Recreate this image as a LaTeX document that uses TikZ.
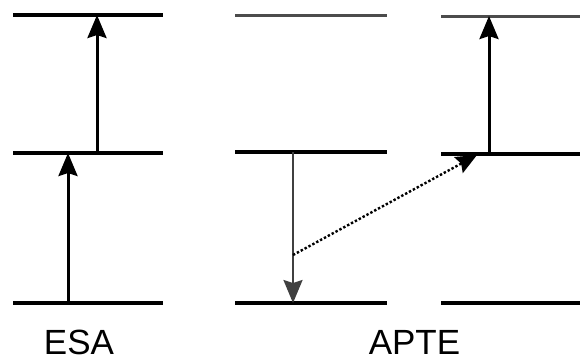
\documentclass[tikz,border=0pt]{standalone}
\usepackage{fontspec}
\setmainfont{Liberation Sans}
\usetikzlibrary{arrows.meta}
\tikzset{
  level/.style={line width=3.4pt, black},
  levelthin/.style={line width=3pt, black!70},
  uparrow/.style={line width=3pt, -{Stealth[length=23pt,width=19pt,inset=3pt]}},
  thinarrow/.style={line width=2.4pt, black!75, -{Stealth[length=23pt,width=19pt,inset=3pt]}},
  dotarrow/.style={line width=2.4pt, dotted, -{Stealth[length=21pt,width=18pt,inset=3pt]}},
  lbl/.style={font=\fontsize{35pt}{40pt}\selectfont, anchor=base, inner sep=0pt, text depth=0pt}
}
\begin{document}
\begin{tikzpicture}[x=1pt,y=-1pt]
\useasboundingbox (0,0) rectangle (580,360);
% ESA levels
\coordinate (e1l) at (13,15);  \coordinate (e1r) at (163,15);
\coordinate (e2l) at (13,153); \coordinate (e2r) at (163,153);
\coordinate (e3l) at (13,303); \coordinate (e3r) at (163,303);
\draw[level] (e1l) -- (e1r);
\draw[level] (e2l) -- (e2r);
\draw[level] (e3l) -- (e3r);
\coordinate (ea1) at (68,303); \coordinate (ea2) at (68,153);
\coordinate (eb1) at (97,153); \coordinate (eb2) at (97,15);
\draw[uparrow] (ea1) -- (ea2);
\draw[uparrow] (eb1) -- (eb2);
% APTE left levels
\coordinate (a1l) at (235,15);  \coordinate (a1r) at (387,15);
\coordinate (a2l) at (235,152); \coordinate (a2r) at (387,152);
\coordinate (a3l) at (235,303); \coordinate (a3r) at (387,303);
\draw[levelthin] (a1l) -- (a1r);
\draw[level] (a2l) -- (a2r);
\draw[level] (a3l) -- (a3r);
\coordinate (ad1) at (293,152); \coordinate (ad2) at (293,303);
\draw[thinarrow] (ad1) -- (ad2);
% APTE right levels
\coordinate (b1l) at (441,16);  \coordinate (b1r) at (580,16);
\coordinate (b2l) at (441,154); \coordinate (b2r) at (580,154);
\coordinate (b3l) at (441,303); \coordinate (b3r) at (580,303);
\draw[levelthin] (b1l) -- (b1r);
\draw[level] (b2l) -- (b2r);
\draw[level] (b3l) -- (b3r);
\coordinate (bu1) at (489,154); \coordinate (bu2) at (489,16);
\draw[uparrow] (bu1) -- (bu2);
% dotted transfer
\coordinate (ds) at (293,255); \coordinate (de) at (477,155);
\draw[dotarrow] (ds) -- (de);
% labels
\node[lbl] (esa) at (79,354) {ESA};
\node[lbl] (apte) at (414.5,354) {APTE};
\end{tikzpicture}
\end{document}
